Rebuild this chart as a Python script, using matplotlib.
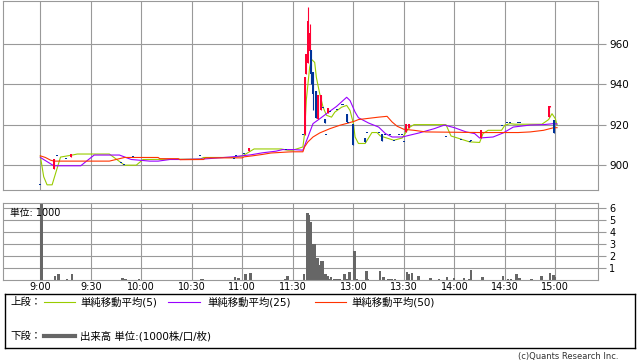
import matplotlib
matplotlib.use('Agg')
import matplotlib.pyplot as plt

plt.rcParams['font.family'] = ['DejaVu Sans', 'Noto Sans CJK JP']

# ---- 1-minute candles (time, open, high, low, close) ----
c_time  = ["9:00", "9:08", "9:10", "9:15", "9:18", "9:48", "9:50", "9:55",
           "10:35", "10:55", "10:56", "11:01", "11:04", "11:26",
           "12:30", "12:31", "12:32", "12:33", "12:34", "12:35", "12:36", "12:38",
           "12:39", "12:41", "12:42", "12:43", "12:44", "12:45", "12:46", "12:50",
           "12:53", "12:54", "12:56", "12:57", "13:00", "13:07", "13:08", "13:15",
           "13:17", "13:19", "13:22", "13:24", "13:27", "13:29", "13:30", "13:31",
           "13:33", "13:55", "14:04", "14:09", "14:10", "14:16", "14:28", "14:31",
           "14:33", "14:38", "14:39", "14:56", "14:57", "14:59"]
c_open  = [890, 898, 904.5, 903, 904, 901, 900, 904,
           904.5, 902.8, 904.5, 905.4, 907.1, 907.4,
           915, 915.6, 945, 950.6, 956.4, 956.9, 945.8, 936.8,
           923, 927, 928, 923, 915, 925.9, 926, 927,
           929.8, 929.8, 925, 921, 920.2, 913.4, 916.1, 915.9,
           915.3, 915.1, 915.1, 912, 915, 915.1, 911.2, 916.6,
           918.5, 913.9, 912.3, 911.2, 912, 913.6, 919.2, 921,
           921, 920.8, 920.8, 923.7, 928.6, 922.5]
c_high  = [890, 903, 904.5, 903, 905.5, 901, 900, 904,
           904.5, 902.8, 904.5, 905.4, 908.4, 907.4,
           915, 943.3, 954.8, 978, 969.5, 956.9, 945.8, 936.8,
           934.4, 934.4, 928, 923, 915, 928.3, 926, 927,
           929.8, 929.8, 925, 921, 920.2, 913.4, 916.1, 915.9,
           915.3, 915.1, 915.1, 912, 915, 915.1, 911.2, 920.1,
           920.1, 913.9, 912.3, 911.2, 912, 917.2, 919.2, 921,
           921, 920.8, 920.8, 929.1, 929.1, 922.5]
c_low   = [890, 898, 904.5, 903, 904, 901, 900, 904,
           904.5, 902.8, 904.5, 905.4, 907.1, 907.4,
           915, 915, 945, 950.6, 956.4, 940, 927, 923.1,
           923, 927, 928, 920.6, 915, 925.9, 926, 927,
           929.8, 929.8, 921.3, 921, 909.9, 911.2, 916.1, 915.9,
           911.8, 915.1, 915.1, 912, 915, 915.1, 911.2, 916.6,
           918.5, 913.9, 912.3, 911.2, 912, 913.6, 919.2, 921,
           921, 920.8, 920.8, 923.7, 928.6, 915.9]
c_close = [890, 903, 904.5, 903, 905.5, 901, 900, 904,
           904.5, 902.8, 904.5, 905.4, 908.4, 907.4,
           915, 943.3, 954.8, 971, 965.4, 945, 935.2, 923.1,
           934.4, 934.4, 928, 920.6, 915, 928.3, 926, 927,
           929.8, 929.8, 921.3, 921, 909.9, 911.2, 916.1, 915.9,
           911.8, 915.1, 915.1, 912, 915, 915.1, 911.2, 920.1,
           920.1, 913.9, 912.3, 911.2, 912, 917.2, 919.2, 921,
           921, 920.8, 920.8, 929.1, 929.1, 915.9]

# ---- moving averages ----
ma5_t = ["9:00", "9:02", "9:04", "9:07", "9:12", "9:19", "9:22", "9:41", "9:50",
         "9:57", "10:01", "10:35", "10:37", "10:54", "11:00", "11:07", "11:23",
         "11:27", "11:30", "12:30", "12:31", "12:32", "12:34", "12:35", "12:37",
         "12:38", "12:40", "12:42", "12:44", "12:47", "12:49", "12:53", "12:56",
         "12:58", "13:00", "13:01", "13:03", "13:07", "13:11", "13:14", "13:16",
         "13:24", "13:29", "13:33", "13:36", "13:55", "13:58", "14:03", "14:09",
         "14:15", "14:17", "14:20", "14:28", "14:30", "14:33", "14:36", "14:52",
         "14:56", "14:58", "15:00", "15:01"]
ma5_v = [904.5, 894.3, 890.3, 890.3, 904, 905, 905.5, 905.5, 900,
         900, 902.8, 903, 903.8, 903.8, 904.5, 908, 908,
         907.4, 907.4, 909, 915.6, 931.9, 948.2, 952.3, 950.7,
         943.3, 935.2, 928.6, 924.6, 923.7, 926.2, 928.6, 929.5,
         927, 920.5, 913.9, 910.7, 910.7, 916.1, 916.1, 914.4,
         912.3, 913.4, 918.5, 920, 920, 914.4, 913.1, 911.5,
         911.2, 915.6, 917.2, 917.2, 919.7, 920.5, 920.2, 920.2,
         922.5, 925.4, 922.9, 919.7]

ma25_t = ["9:00", "9:08", "9:24", "9:32", "9:47", "9:54", "10:05", "10:10",
          "10:17", "10:23", "10:38", "10:54", "11:05", "11:12", "11:20", "11:24",
          "11:30", "12:30", "12:33", "12:36", "12:40", "12:44", "12:50", "12:56",
          "12:58", "13:01", "13:03", "13:06", "13:09", "13:15", "13:19", "13:23",
          "13:29", "13:39", "13:48", "13:54", "14:00", "14:07", "14:12", "14:15",
          "14:23", "14:29", "14:35", "14:45", "14:53", "14:59", "15:01"]
ma25_v = [903.8, 899.7, 899.7, 905, 905, 902.8, 902, 902,
          902.8, 902.8, 903.1, 904.1, 905.1, 906.1, 906.9, 907.7,
          907.7, 907.4, 913.9, 920.5, 922.9, 925.4, 929, 933.5,
          931.9, 926.2, 923.4, 922.1, 920.8, 918.8, 915.6, 913.9,
          913.9, 915.9, 918, 919.8, 918.5, 916.4, 915.6, 913.4,
          913.9, 915.9, 918.8, 919.8, 920, 920.5, 920.3]

ma50_t = ["9:00", "9:03", "9:06", "9:08", "9:41", "9:50", "10:10", "10:11",
          "10:22", "10:23", "10:37", "10:38", "11:00", "11:01", "11:06", "11:12",
          "11:17", "11:27", "11:30", "12:30", "12:31", "12:33", "12:36", "12:40",
          "12:46", "12:52", "12:57", "13:01", "13:03", "13:09", "13:15", "13:20",
          "13:23", "13:26", "13:30", "13:36", "13:43", "14:15", "14:38", "14:45",
          "14:53", "14:59", "15:01"]
ma50_v = [904.6, 903.8, 902.5, 902, 902, 903.8, 903.8, 903.2,
          903.2, 902.7, 902.8, 903.6, 903.6, 904.1, 904.6, 905.3,
          906, 906.5, 906.6, 906.6, 909, 911.5, 913.9, 915.9,
          918, 919.7, 920.8, 921.8, 922.5, 923.1, 923.7, 924.1,
          921.3, 919.2, 917.7, 917.2, 916.4, 916.1, 916.1, 916.4,
          917.2, 918.5, 918.5]

# ---- volume (1000 shares) ----
v_time = ["9:00", "9:08", "9:10", "9:15", "9:18", "9:48", "9:50", "9:58",
          "10:35", "10:36", "10:55", "10:57", "11:01", "11:04", "11:25", "11:26",
          "12:30", "12:32", "12:33", "12:34", "12:35", "12:36", "12:37", "12:38",
          "12:39", "12:40", "12:41", "12:42", "12:43", "12:44", "12:45", "12:46",
          "12:48", "12:49", "12:50", "12:51", "12:54", "12:55", "12:57", "13:00",
          "13:01", "13:07", "13:08", "13:15", "13:17", "13:20", "13:22", "13:24",
          "13:31", "13:32", "13:34", "13:38", "13:45", "13:50", "13:55", "13:59",
          "14:05", "14:08", "14:09", "14:16", "14:28", "14:31", "14:33", "14:36",
          "14:38", "14:45", "14:51", "14:56", "14:58", "14:59"]
v_vol = [7.0, 0.33, 0.5, 0.1, 0.5, 0.17, 0.08, 0.1,
         0.08, 0.08, 0.25, 0.2, 0.5, 0.58, 0.08, 0.36,
         0.5, 5.6, 5.45, 4.85, 3.0, 3.0, 1.9, 1.9,
         1.25, 1.65, 1.65, 0.5, 0.5, 0.33, 0.1, 0.25,
         0.1, 0.1, 0.1, 0.1, 0.5, 0.1, 0.7, 2.45,
         0.1, 0.75, 0.1, 0.75, 0.25, 0.1, 0.1, 0.1,
         0.67, 0.53, 0.58, 0.33, 0.17, 0.08, 0.25, 0.17,
         0.17, 0.08, 0.83, 0.25, 0.33, 0.08, 0.08, 0.5,
         0.17, 0.08, 0.33, 0.58, 0.44, 0.25]

tick_labels = ["9:00", "9:30", "10:00", "10:30", "11:00", "11:30",
               "13:00", "13:30", "14:00", "14:30", "15:00"]
price_ticks = [900, 920, 940, 960]
vol_ticks = [1, 2, 3, 4, 5, 6]

UP, DOWN = '#ff0033', '#003399'
GRID = '#999999'
LW = 0.8


def tpos(s):
    # minutes from 9:00, lunch break (11:30-12:30) squeezed to a short gap
    h, m = s.split(':')
    t = (int(h) - 9) * 60 + int(m)
    if t > 150:
        t = t - 60 + 6
    return t


fig = plt.figure(figsize=(6.38, 3.62), dpi=100)
ax = fig.add_axes([3.3/638, 1 - 190.3/362, 595/638, 189.3/362])
axv = fig.add_axes([3.3/638, 1 - 280.3/362, 595/638, 77/362], sharex=ax)

xt = [tpos(s) for s in tick_labels]
for a in (ax, axv):
    a.set_xticks(xt)
    a.grid(True, color=GRID, linewidth=LW)
    a.set_axisbelow(True)
    for sp in a.spines.values():
        sp.set_color(GRID)
        sp.set_linewidth(LW)
    a.yaxis.tick_right()
    a.tick_params(axis='y', colors=GRID, length=6, width=LW, labelcolor='black',
                  labelsize=7.5, pad=2)
    a.tick_params(axis='x', length=0)

# moving averages
ax.plot([tpos(s) for s in ma5_t], ma5_v, color='#99cc00', lw=LW)
ax.plot([tpos(s) for s in ma25_t], ma25_v, color='#9900ff', lw=LW)
ax.plot([tpos(s) for s in ma50_t], ma50_v, color='#ff3300', lw=LW)

# candles
for t, o, h, l, c in zip(c_time, c_open, c_high, c_low, c_close):
    x = tpos(t)
    col = UP if c > o else DOWN
    ax.vlines(x, l, h, color=col, lw=LW, zorder=3)
    ax.bar(x, max(abs(c - o), 0.5), bottom=min(o, c), width=1.2,
           color=col, linewidth=0, zorder=3)

ax.set_ylim(887.6, 981)
ax.set_yticks(price_ticks)
ax.set_xlim(-22, 331.5)
ax.tick_params(axis='x', labelbottom=False)

# volume
axv.bar([tpos(s) for s in v_time], v_vol, width=1.5, align='edge',
        color='#666666', linewidth=0, zorder=2)
axv.set_ylim(0, 6.42)
axv.set_yticks(vol_ticks)
axv.tick_params(axis='y', labelsize=7, pad=2)
axv.set_xticklabels(tick_labels, fontsize=7)
axv.tick_params(axis='x', pad=1.5)
axv.text(0.012, 0.94, '単位: 1000', transform=axv.transAxes, fontsize=7,
         ha='left', va='top', zorder=5)

# legend box
lg = fig.add_axes([5/638, 1 - 348/362, 630/638, 54/362])
lg.set_xlim(5, 635)
lg.set_ylim(348, 294)
lg.set_xticks([])
lg.set_yticks([])
for sp in lg.spines.values():
    sp.set_color('black')
    sp.set_linewidth(1)

fs = 7.5
lg.text(10, 302, '上段：', fontsize=fs, va='center')
lg.plot([44, 75], [302, 302], color='#99cc00', lw=LW)
lg.text(80, 302, '単純移動平均(5)', fontsize=fs, va='center')
lg.plot([168, 200], [302, 302], color='#9900ff', lw=LW)
lg.text(207, 302, '単純移動平均(25)', fontsize=fs, va='center')
lg.plot([315, 346], [302, 302], color='#ff3300', lw=LW)
lg.text(351, 302, '単純移動平均(50)', fontsize=fs, va='center')
lg.text(10, 336, '下段：', fontsize=fs, va='center')
lg.plot([44, 75], [336, 336], color='#666666', lw=3)
lg.text(80, 336, '出来高 単位:(1000株/口/枚)', fontsize=fs, va='center')

fig.text(618/638, 1 - 356/362, '(c)Quants Research Inc.', fontsize=6,
         ha='right', va='center', color='#333333')

fig.savefig('out.png', dpi=100, facecolor='white')
